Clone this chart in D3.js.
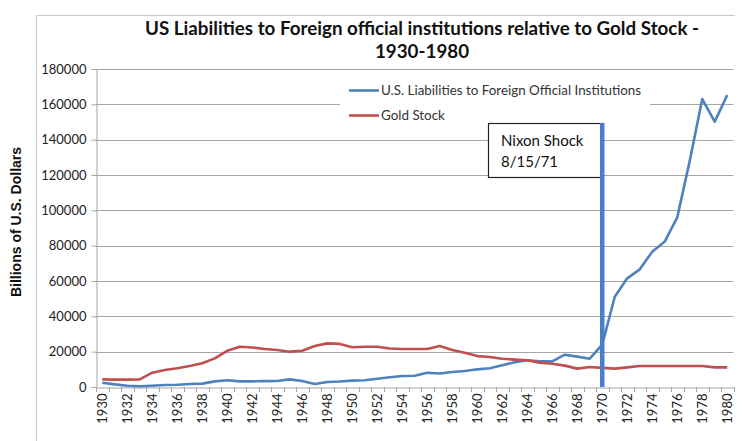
<!DOCTYPE html>
<html>
<head>
<meta charset="utf-8">
<script src="https://cdn.jsdelivr.net/npm/d3@7"></script>
<style>
  body { margin: 0; background: #fff; }
  svg { display: block; font-family: Lato, "Open Sans", sans-serif; }
  .ytitle { font-family: "Liberation Sans", Arial, sans-serif; }
</style>
</head>
<body>
<div id="vis"></div>
<script>
const WIDTH = 748;
const HEIGHT = 441;
const MARG = {left: 96, right: 14.5, top: 69, bottom: 54};

// data (millions of dollars)
const years = [1930, 1931, 1932, 1933, 1934, 1935, 1936, 1937, 1938, 1939,
  1940, 1941, 1942, 1943, 1944, 1945, 1946, 1947, 1948, 1949,
  1950, 1951, 1952, 1953, 1954, 1955, 1956, 1957, 1958, 1959,
  1960, 1961, 1962, 1963, 1964, 1965, 1966, 1967, 1968, 1969,
  1970, 1971, 1972, 1973, 1974, 1975, 1976, 1977, 1978, 1979, 1980];
const liabilities = [2400, 1500, 750, 400, 750, 1100, 1300, 1700, 1900, 3200,
  3800, 3200, 3200, 3300, 3400, 4300, 3400, 1700, 2800, 3100,
  3600, 3800, 4700, 5500, 6200, 6400, 8100, 7600, 8500, 9100,
  10000, 10600, 12300, 14000, 15100, 14500, 14500, 18300, 17200, 16000,
  24000, 51100, 61500, 66600, 76600, 82300, 96000, 128000, 163000, 150200, 165300];
const goldStock = [4300, 4200, 4200, 4300, 8100, 9600, 10600, 11900, 13400, 16200,
  20500, 22800, 22400, 21500, 20900, 20000, 20500, 23200, 24700, 24400,
  22500, 22800, 22800, 21800, 21500, 21500, 21500, 23200, 20900, 19400,
  17500, 17000, 16000, 15500, 15100, 13800, 13200, 12100, 10400, 11300,
  10800, 10400, 11100, 11900, 11900, 11900, 11900, 11900, 11900, 11100, 11100];
const yTicks = [0, 20000, 40000, 60000, 80000, 100000, 120000, 140000, 160000, 180000];
const seriesNames = ["U.S. Liabilities to Foreign Official Institutions", "Gold Stock"];
const seriesColors = ["#4f81bd", "#c0504d"];
const nixonYear = 1970;
const nixonText = ["Nixon Shock", "8/15/71"];

const VIS_WIDTH = WIDTH - MARG.left - MARG.right;
const VIS_HEIGHT = HEIGHT - MARG.top - MARG.bottom;

const FRAME = d3.select("#vis")
  .append("svg")
    .attr("width", WIDTH)
    .attr("height", HEIGHT);

// outer chart border
FRAME.append("path")
  .attr("d", "M36.5," + HEIGHT + "V15.5H735")
  .attr("fill", "none")
  .attr("stroke", "#c8c8c8")
  .attr("stroke-width", 1);

const X = d3.scaleBand()
  .domain(years)
  .range([MARG.left, MARG.left + VIS_WIDTH])
  .padding(0);

const Y = d3.scaleLinear()
  .domain([0, 180000])
  .range([MARG.top + VIS_HEIGHT, MARG.top]);

const cx = (d) => X(d) + X.bandwidth() / 2;

// gridlines
FRAME.append("g")
  .selectAll("line")
  .data(yTicks.filter((d) => d > 0))
  .enter()
  .append("line")
    .attr("x1", MARG.left)
    .attr("x2", MARG.left + VIS_WIDTH)
    .attr("y1", (d) => Math.round(Y(d)) + 0.5)
    .attr("y2", (d) => Math.round(Y(d)) + 0.5)
    .attr("stroke", "#a6a6a6")
    .attr("stroke-width", 1);

// y axis
const yAxis = FRAME.append("g")
  .attr("transform", "translate(" + (MARG.left + 0.5) + ",0)")
  .call(d3.axisLeft(Y).tickValues(yTicks).tickSize(5).tickPadding(5).tickFormat(d3.format("d")));
yAxis.select(".domain").attr("stroke", "#a6a6a6");
yAxis.selectAll(".tick line").attr("stroke", "#a6a6a6");
yAxis.selectAll("text").attr("font-size", "13px").attr("fill", "#222").attr("font-family", "Lato");

// x axis
const xAxis = FRAME.append("g")
  .attr("transform", "translate(0," + (Y(0) + 0.5) + ")")
  .call(d3.axisBottom(X).tickValues(years.filter((d) => d % 2 === 0)).tickSize(0).tickPadding(0));
xAxis.select(".domain").attr("stroke", "#a6a6a6");
xAxis.selectAll("text")
  .attr("font-size", "13px")
  .attr("fill", "#222")
  .attr("font-family", "Lato")
  .attr("transform", "rotate(-90)")
  .attr("text-anchor", "end")
  .attr("x", -6)
  .attr("y", 0)
  .attr("dy", "0.35em");

// tick marks between categories
FRAME.append("g")
  .selectAll("line")
  .data(years.concat([null]))
  .enter()
  .append("line")
    .attr("x1", (d) => Math.round(d === null ? X.range()[1] : X(d)) + 0.5)
    .attr("x2", (d) => Math.round(d === null ? X.range()[1] : X(d)) + 0.5)
    .attr("y1", Y(0))
    .attr("y2", Y(0) + 5)
    .attr("stroke", "#a6a6a6");

// lines
const line = d3.line()
  .x((d, i) => cx(years[i]))
  .y((d) => Y(d));

[liabilities, goldStock].forEach((s, i) => {
  FRAME.append("path")
    .datum(s)
    .attr("d", line)
    .attr("fill", "none")
    .attr("stroke", seriesColors[i])
    .attr("stroke-width", 2.6)
    .attr("stroke-linejoin", "round");
});

// legend
const legend = FRAME.append("g");
legend.append("rect")
  .attr("x", 340).attr("y", 77)
  .attr("width", 310).attr("height", 48)
  .attr("fill", "#fff");
seriesNames.forEach((n, i) => {
  const ly = 90.5 + i * 25;
  legend.append("line")
    .attr("x1", 349).attr("x2", 379)
    .attr("y1", ly).attr("y2", ly)
    .attr("stroke", seriesColors[i])
    .attr("stroke-width", 2.6);
  legend.append("text")
    .attr("x", 381).attr("y", ly)
    .attr("dy", "0.35em")
    .attr("font-size", "13.4px")
    .attr("fill", "#333")
    .text(n);
});

// Nixon shock marker
const nx = cx(nixonYear);
FRAME.append("rect")
  .attr("x", 488.5).attr("y", 123.5)
  .attr("width", nx - 488.5).attr("height", 54)
  .attr("fill", "#fff")
  .attr("stroke", "#222")
  .attr("stroke-width", 1.2);
FRAME.append("line")
  .attr("x1", nx).attr("x2", nx)
  .attr("y1", 123)
  .attr("y2", Y(0))
  .attr("stroke", "#4a7ec6")
  .attr("stroke-width", 4.5);
nixonText.forEach((t, i) => {
  FRAME.append("text")
    .attr("x", 501).attr("y", 146 + i * 21)
    .attr("font-size", "15px")
    .attr("fill", "#111")
    .text(t);
});

// title
const title = ["US Liabilities to Foreign official institutions relative to Gold Stock -", "1930-1980"];
title.forEach((t, i) => {
  FRAME.append("text")
    .attr("x", 422).attr("y", 35 + i * 23)
    .attr("text-anchor", "middle")
    .attr("font-size", "18.8px")
    .attr("font-weight", "bold")
    .attr("fill", "#111")
    .text(t);
});

// y axis title
FRAME.append("text")
  .attr("class", "ytitle")
  .attr("transform", "translate(21,222) rotate(-90)")
  .attr("text-anchor", "middle")
  .attr("font-size", "14px")
  .attr("font-weight", "bold")
  .attr("fill", "#111")
  .text("Billions of U.S. Dollars");
</script>
</body>
</html>
